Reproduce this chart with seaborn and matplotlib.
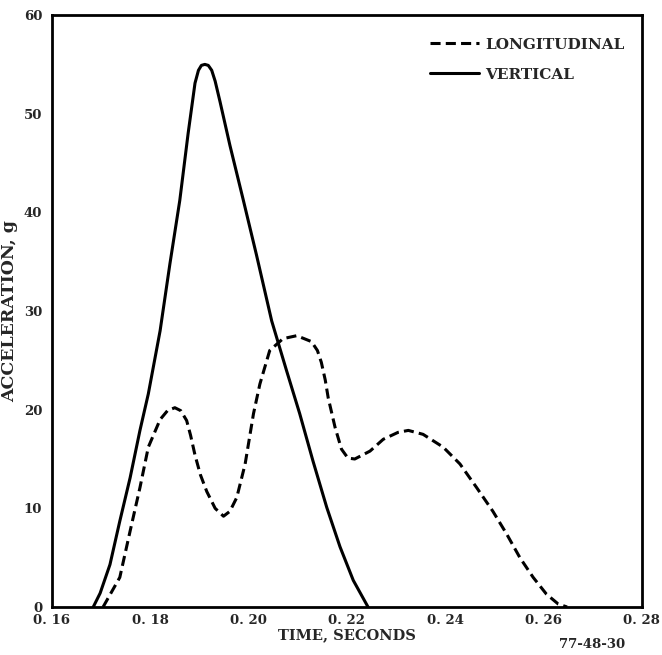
import pandas as pd
import matplotlib
matplotlib.use("Agg")
import matplotlib.pyplot as plt
import seaborn as sns

# values (time in s, acceleration in g)
vert_t = [0.1684, 0.1698, 0.1718, 0.1738, 0.1759, 0.1779, 0.1796, 0.1820, 0.1840,
          0.1860, 0.1877, 0.1891, 0.1898, 0.1904, 0.1911, 0.1918, 0.1925, 0.1932,
          0.1942, 0.1962, 0.1989, 0.2016, 0.2047, 0.2077, 0.2104, 0.2131, 0.2159,
          0.2186, 0.2213, 0.2243]
vert_g = [0.0, 1.4, 4.3, 8.7, 13.1, 17.9, 21.6, 28.0, 34.8,
          41.2, 48.0, 53.1, 54.4, 54.9, 55.0, 54.9, 54.4, 53.3,
          51.2, 46.8, 41.3, 35.7, 29.0, 24.0, 19.6, 14.8, 10.1,
          6.1, 2.7, 0.0]

long_t = [0.1704, 0.1738, 0.1759, 0.1779, 0.1796, 0.1820, 0.1835, 0.1850, 0.1862,
          0.1874, 0.1882, 0.1891, 0.1902, 0.1915, 0.1932, 0.1949, 0.1962, 0.1976,
          0.1993, 0.2010, 0.2023, 0.2043, 0.2070, 0.2098, 0.2128, 0.2140, 0.2148,
          0.2156, 0.2162, 0.2176, 0.2189, 0.2202, 0.2216, 0.2247, 0.2274, 0.2304,
          0.2325, 0.2355, 0.2396, 0.2430, 0.2464, 0.2497, 0.2525, 0.2552, 0.2579,
          0.2606, 0.2630, 0.2648]
long_g = [0.0, 3.0, 7.7, 12.1, 16.2, 19.0, 19.9, 20.2, 19.9,
          18.9, 17.4, 15.4, 13.4, 11.7, 10.0, 9.2, 9.7, 11.1,
          14.5, 19.6, 22.6, 26.0, 27.2, 27.5, 26.9, 26.0, 24.8,
          23.0, 21.2, 18.2, 16.0, 15.1, 15.0, 15.8, 17.0, 17.7,
          17.9, 17.5, 16.2, 14.5, 12.1, 9.7, 7.4, 5.0, 3.0,
          1.3, 0.3, 0.0]

x_ticks = [0.16, 0.18, 0.20, 0.22, 0.24, 0.26, 0.28]
x_labels = ["0. 16", "0. 18", "0. 20", "0. 22", "0. 24", "0. 26", "0. 28"]
y_ticks = [0, 10, 20, 30, 40, 50, 60]

df_long = pd.DataFrame({"t": long_t, "g": long_g})
df_vert = pd.DataFrame({"t": vert_t, "g": vert_g})

sns.set_style("white")
plt.rcParams["font.family"] = ["DejaVu Serif"]

fig = plt.figure(figsize=(6.62, 6.55), dpi=100)
ax = fig.add_axes([0.0785, 0.0733, 0.891, 0.9037])

sns.lineplot(data=df_long, x="t", y="g", ax=ax, color="black", lw=2.2,
             sort=False, estimator=None, label="LONGITUDINAL")
ax.lines[-1].set_dashes((3.3, 1.7))
sns.lineplot(data=df_vert, x="t", y="g", ax=ax, color="black", lw=2.2,
             sort=False, estimator=None, label="VERTICAL")

ax.set_xlim(0.16, 0.28)
ax.set_ylim(0, 60)
ax.set_xticks(x_ticks)
ax.set_xticklabels(x_labels, fontsize=9.5, fontweight="bold")
ax.set_yticks(y_ticks)
ax.set_yticklabels([str(v) for v in y_ticks], fontsize=9.5, fontweight="bold")
ax.tick_params(axis="x", direction="in", length=7, width=1.5, pad=5)
ax.tick_params(axis="y", direction="out", length=5, width=1.5, pad=2)
for s in ax.spines.values():
    s.set_linewidth(2.0)
    s.set_color("black")

ax.set_xlabel("TIME, SECONDS", fontsize=10.5, fontweight="bold", labelpad=1)
ax.set_ylabel("ACCELERATION, g", fontsize=12.5, fontweight="bold", labelpad=4)

ax.legend(loc="upper right", bbox_to_anchor=(0.981, 0.972), borderaxespad=0,
          frameon=False, handlelength=3.2, handletextpad=0.4, labelspacing=1.05,
          prop={"size": 11, "weight": "bold"})

fig.text(0.894, 0.011, "77-48-30", fontsize=9.5, fontweight="bold", ha="center")

fig.savefig("out.png", dpi=100)
plt.close(fig)
